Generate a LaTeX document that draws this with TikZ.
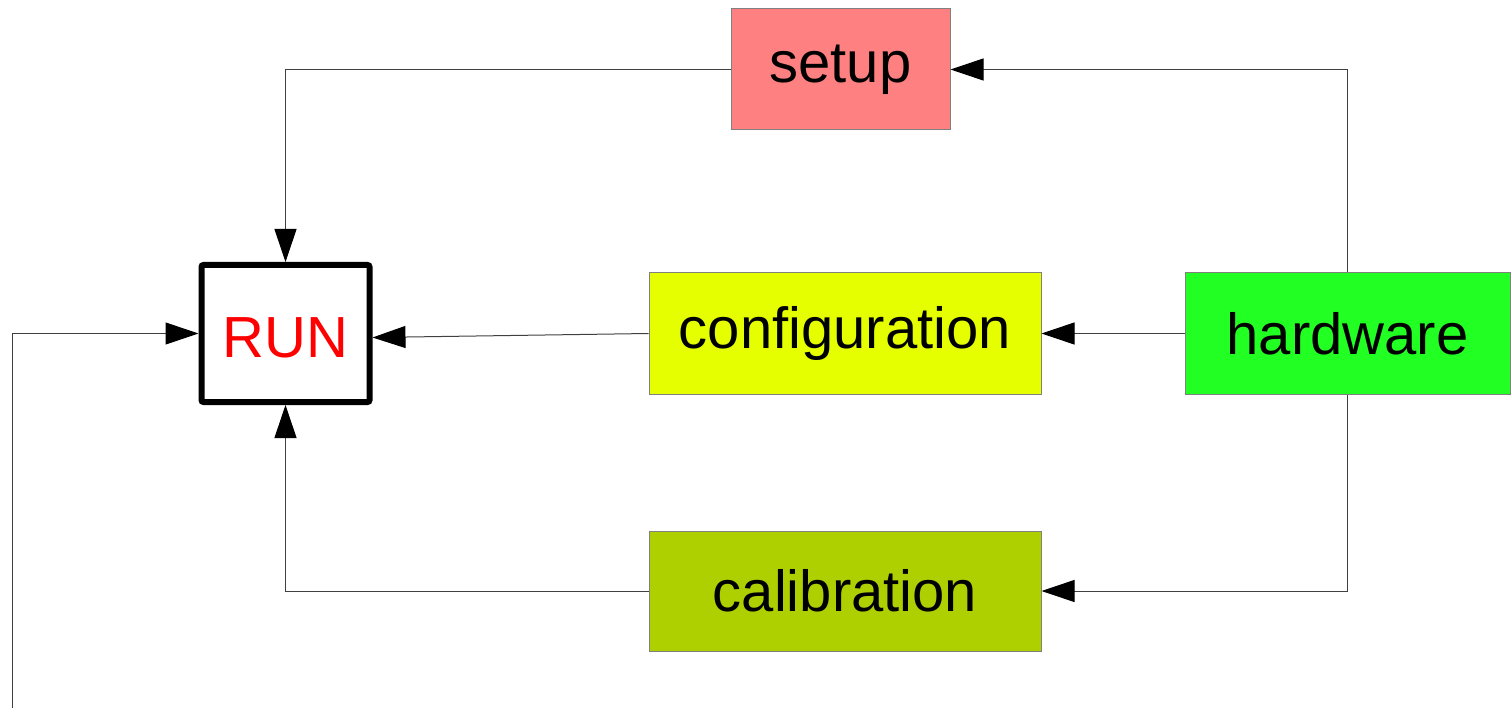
\documentclass[tikz,border=0pt]{standalone}
\usepackage{fontspec}
\setmainfont{Liberation Sans}
\usetikzlibrary{arrows.meta}
\definecolor{setupfill}{HTML}{FF8080}
\definecolor{conffill}{HTML}{E5FF00}
\definecolor{hwfill}{HTML}{22FF22}
\definecolor{calfill}{HTML}{AED000}
\definecolor{edgegray}{HTML}{808080}
\definecolor{wiregray}{HTML}{404040}
\tikzset{
  block/.style={draw=edgegray, line width=1pt, inner sep=0pt,
    font=\fontsize{58}{70}\selectfont},
  runbox/.style={draw=black, line width=6pt, rounded corners=2pt, inner sep=0pt,
    text=red, font=\fontsize{58}{70}\selectfont},
  wire/.style={draw=wiregray, line width=1pt,
    -{Triangle[length=33pt, width=22pt, fill=black, color=black]}},
}
\begin{document}
\begin{tikzpicture}[x=1pt, y=1pt]
  \useasboundingbox (0,0) rectangle (1511,-708);

  % process blocks
  \node[block, fill=setupfill, minimum width=219pt, minimum height=121pt]
    (setup) at (840.5,-69.5) {setup};
  \node[block, fill=conffill, minimum width=392pt, minimum height=121pt]
    (conf) at (845,-333.5) {configuration};
  \node[block, fill=hwfill, minimum width=325pt, minimum height=121pt]
    (hw) at (1347.5,-333.5) {hardware};
  \node[block, fill=calfill, minimum width=392pt, minimum height=120pt]
    (cal) at (845,-591) {calibration};
  \node[runbox, fill=white, minimum width=168pt, minimum height=137pt]
    (run) at (285.5,-333.5) {\raisebox{-4pt}[\height][0pt]{RUN}};

  % external input entering from the bottom edge
  \coordinate (ext) at (12,-708);

  % connectors
  \draw[wire] (setup.west) -| (run.north);
  \draw[wire] (hw.north) |- (setup.east);
  \draw[wire] (hw.west) -- (conf.east);
  \draw[wire] (conf.west) -- ([yshift=-4pt]run.east);
  \draw[wire] (hw.south) |- (cal.east);
  \draw[wire] (cal.west) -| (run.south);
  \draw[wire] (ext) |- (run.west);
\end{tikzpicture}
\end{document}
